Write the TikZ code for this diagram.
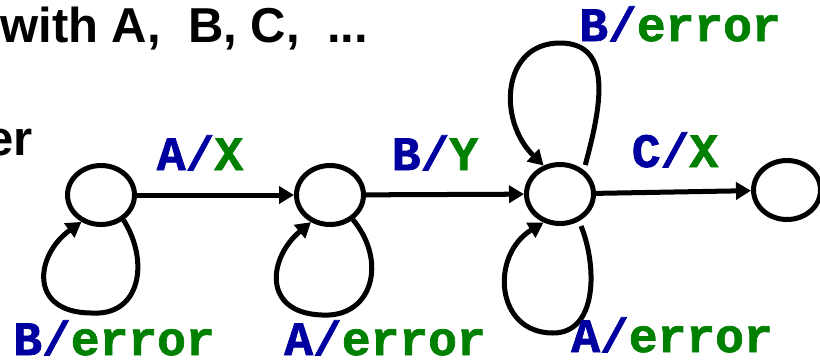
\documentclass[tikz,border=0pt]{standalone}
\usepackage{fontspec}
\setmainfont{Liberation Sans}
\setmonofont[BoldFeatures={FakeBold=1.5}]{Liberation Mono}
\usetikzlibrary{arrows.meta,shapes.geometric}
\definecolor{inblue}{RGB}{0,0,160}
\definecolor{outgreen}{RGB}{0,128,0}
\newcommand{\io}[2]{\textcolor{inblue}{#1/}\textcolor{outgreen}{#2}}
\tikzset{
  state/.style={draw,ellipse,line width=2.85pt,minimum width=1.34cm,minimum height=1.18cm,inner sep=0pt},
  move/.style={line width=2.85pt,-{Triangle[length=0.3cm,width=0.34cm]}},
  iolabel/.style={font=\fontsize{27.3}{30}\selectfont\ttfamily\bfseries,anchor=base,inner sep=0pt},
  heading/.style={font=\fontsize{27.9}{32}\selectfont\bfseries,inner sep=0pt}
}
\begin{document}
\begin{tikzpicture}[x=0.02cm,y=-0.02cm]
\useasboundingbox (0,0) rectangle (820,363);
\clip (0,0) rectangle (820,363);
\node[heading,anchor=base west] (title) at (0,42) {with A,~ B, C,~ ...};
\node[heading,anchor=base east] (sub) at (33,155) {er};
% states
\node[state] (q0) at (101,195) {};
\node[state] (q1) at (330,195) {};
\node[state] (q2) at (560,194) {};
\node[state] (q3) at (787,190) {};
% transitions
\draw[move] (q0) -- (q1);
\draw[move] (q1) -- (q2);
\draw[move] (q2) -- (q3);
\draw[move] (q0.-48) .. controls (150,262) and (140,316) .. (92,313) .. controls (28,313) and (35,255) .. (q0.-126);
\draw[move] (q1.-47) .. controls (388,262) and (372,318) .. (322,315) .. controls (262,313) and (268,258) .. (q1.-125);
\draw[move,shorten <=3pt] (q2.-55) .. controls (597,265) and (598,333) .. (553,333) .. controls (495,333) and (490,255) .. (q2.-120);
\draw[move,shorten <=3pt] (q2.45) .. controls (600,110) and (615,43) .. (560,43) .. controls (502,43) and (497,120) .. (q2.120);
% labels
\node[iolabel] (l01) at (200,170) {\io{A}{X}};
\node[iolabel] (l12) at (435,170) {\io{B}{Y}};
\node[iolabel] (l23) at (675,167) {\io{C}{X}};
\node[iolabel] (l22a) at (680,41) {\io{B}{error}};
\node[iolabel] (l00) at (114,355) {\io{B}{error}};
\node[iolabel] (l11) at (385,355) {\io{A}{error}};
\node[iolabel] (l22b) at (672,352) {\io{A}{error}};
\end{tikzpicture}
\end{document}
